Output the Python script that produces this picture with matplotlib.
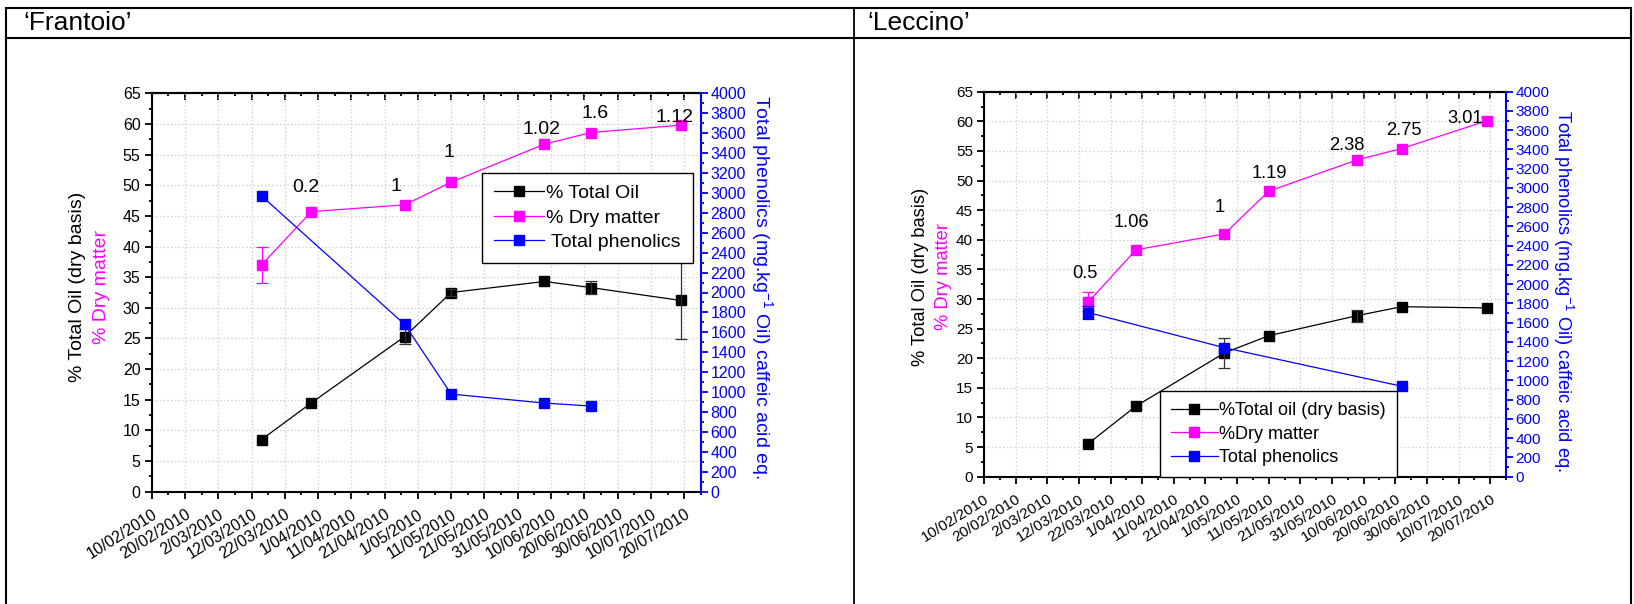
import numpy as np
import matplotlib
matplotlib.use('Agg')
import matplotlib.pyplot as plt
import matplotlib.dates as mdates
from matplotlib.ticker import FixedLocator, MultipleLocator
from matplotlib.lines import Line2D
import pandas as pd

plt.rcParams['font.family'] = ['Liberation Sans', 'DejaVu Sans']
plt.rcParams['mathtext.default'] = 'regular'

# x tick labels (every 10 days)
tick_labels = ['10/02/2010', '20/02/2010', '2/03/2010', '12/03/2010', '22/03/2010',
               '1/04/2010', '11/04/2010', '21/04/2010', '1/05/2010', '11/05/2010',
               '21/05/2010', '31/05/2010', '10/06/2010', '20/06/2010', '30/06/2010',
               '10/07/2010', '20/07/2010']
x_range = ['10/02/2010', '25/07/2010']

sample_dates = ['15/03/2010', '30/03/2010', '27/04/2010', '11/05/2010',
                '08/06/2010', '22/06/2010', '19/07/2010']

# 'Frantoio'
fr_oil = [8.5, 14.5, 25.3, 32.5, 34.3, 33.3, 31.2]
fr_oil_err = [0, 0, 1.2, 0.6, 0, 1.0, 6.3]
fr_dry = [37.0, 45.7, 46.8, 50.5, 56.7, 58.6, 59.8]
fr_dry_err = [2.9, 0, 0, 0, 0, 0, 0]
fr_phen_dates = ['15/03/2010', '27/04/2010', '11/05/2010', '08/06/2010', '22/06/2010']
fr_phen = [2970, 1680, 980, 890, 860]
fr_phen_err = [0, 0, 0, 0, 0]
fr_labels = ['', '0.2', '1', '1', '1.02', '1.6', '1.12']
fr_legend = ['% Total Oil', '% Dry matter', ' Total phenolics']

# 'Leccino'
le_oil = [5.6, 11.9, 20.9, 23.8, 27.2, 28.7, 28.5]
le_oil_err = [0, 0, 2.6, 0, 1.0, 0, 0]
le_dry = [29.5, 38.3, 41.0, 48.2, 53.5, 55.4, 60.1]
le_dry_err = [1.6, 0, 0, 0, 0, 0, 0.6]
le_phen_dates = ['15/03/2010', '27/04/2010', '22/06/2010']
le_phen = [1705, 1340, 940]
le_phen_err = [65, 0, 0]
le_labels = ['0.5', '1.06', '1', '1.19', '2.38', '2.75', '3.01']
le_legend = ['%Total oil (dry basis)', '%Dry matter', 'Total phenolics']

# label offsets in pixels (dx, dy)
fr_label_off = [(0, 0), (-6, 24), (-9, 18), (-2, 30), (-3, 15), (4, 19), (-6, 8)]
le_label_off = [(-3, 28), (-4, 27), (-5, 26), (1, 18), (-10, 14), (2, 18), (-22, 2)]

MAG = '#ff00ff'
BLUE = '#0000ff'


def to_num(strs):
    return mdates.date2num(pd.to_datetime(strs, format='%d/%m/%Y').to_pydatetime())


def series(ax, x, y, err, color, ms, ecolor=None):
    ln, = ax.plot(x, y, color=color, lw=0.9, marker='s', ms=ms, mec=color, mfc=color, zorder=3)
    err = np.array(err, dtype=float)
    m = err > 0
    if m.any():
        ax.errorbar(np.array(x)[m], np.array(y)[m], yerr=err[m], fmt='none',
                    ecolor=ecolor or color, elinewidth=0.9, capsize=4, capthick=0.9, zorder=3)
    return ln


def panel(fig, rect, oil, oil_err, dry, dry_err, phen_dates, phen, phen_err,
          labels, label_off, legend_names, leg_anchor, leg_loc, fs, tfs, lfs, ms,
          ylab_x, ylab_x2, ylab_y, rlab_x, rlab_y):
    ax = fig.add_axes(rect)
    x = to_num(sample_dates)
    l1 = series(ax, x, oil, oil_err, 'black', ms, ecolor='#333333')
    l2 = series(ax, x, dry, dry_err, MAG, ms)
    for xi, yi, t, off in zip(x, dry, labels, label_off):
        if t:
            ax.annotate(t, (xi, yi), xytext=off, textcoords='offset pixels',
                        ha='center', va='center', fontsize=fs)

    ax.set_xlim(to_num(x_range))
    ax.set_ylim(0, 65)
    ticks = to_num(tick_labels)
    minors = ticks + 5
    ax.xaxis.set_major_locator(FixedLocator(ticks))
    ax.xaxis.set_minor_locator(FixedLocator(minors))
    ax.set_xticklabels(tick_labels, rotation=32, ha='right', rotation_mode='anchor')
    ax.yaxis.set_major_locator(MultipleLocator(5))
    ax.yaxis.set_minor_locator(MultipleLocator(2.5))
    ax.tick_params(which='major', direction='out', length=5, width=1.3, labelsize=tfs, pad=3)
    ax.tick_params(which='minor', direction='out', length=2.5, width=1.3)
    ax.tick_params(axis='x', which='major', pad=6)
    ax.tick_params(axis='y', right=False, which='both')
    ax.grid(True, which='major', color='#c8c8c8', linestyle=(0, (1, 2)), linewidth=0.9)
    ax.set_axisbelow(True)
    for s in ['left', 'bottom', 'top']:
        ax.spines[s].set_linewidth(1.5)
    ax.spines['right'].set_visible(False)

    top = ax.secondary_xaxis('top')
    top.xaxis.set_major_locator(FixedLocator(ticks))
    top.xaxis.set_minor_locator(FixedLocator(minors))
    top.tick_params(which='major', direction='in', length=5, width=1.3, labeltop=False)
    top.tick_params(which='minor', direction='in', length=2.5, width=1.3)
    top.spines['top'].set_linewidth(1.5)

    ax2 = ax.twinx()
    l3 = series(ax2, to_num(phen_dates), phen, phen_err, BLUE, ms)
    ax2.set_ylim(0, 4000)
    ax2.yaxis.set_major_locator(MultipleLocator(200))
    ax2.yaxis.set_minor_locator(MultipleLocator(100))
    ax2.tick_params(axis='y', which='major', direction='out', length=5, width=1.3,
                    colors=BLUE, labelsize=tfs, pad=2)
    ax2.tick_params(axis='y', which='minor', direction='out', length=2.5, width=1.3, colors=BLUE)
    for s in ['left', 'bottom', 'top']:
        ax2.spines[s].set_visible(False)
    ax2.spines['right'].set_color(BLUE)
    ax2.spines['right'].set_linewidth(1.5)

    ax.text(ylab_x, ylab_y, '% Total Oil (dry basis)', transform=ax.transAxes,
            rotation=90, ha='center', va='center', fontsize=fs)
    ax.text(ylab_x2, ylab_y, '% Dry matter', transform=ax.transAxes, color=MAG,
            rotation=90, ha='center', va='center', fontsize=fs)
    ax.text(rlab_x, rlab_y, 'Total phenolics (mg.kg$^{-1}$ Oil) caffeic acid eq.',
            transform=ax.transAxes, color=BLUE, rotation=-90,
            ha='center', va='center', fontsize=fs)

    leg = ax2.legend([l1, l2, l3], legend_names, loc=leg_loc, bbox_to_anchor=leg_anchor,
                     bbox_transform=ax.transAxes, borderaxespad=0, fontsize=lfs,
                     fancybox=False, framealpha=1, edgecolor='black',
                     handlelength=2.6, handletextpad=0.1, labelspacing=0.35, borderpad=0.6)
    leg.get_frame().set_linewidth(1.0)
    return ax


fig = plt.figure(figsize=(16.34, 6.04), dpi=100)
W, H = 1634.0, 604.0

panel(fig, [151.7 / W, 1 - 491.7 / H, 549.1 / W, 398.4 / H],
      fr_oil, fr_oil_err, fr_dry, fr_dry_err, fr_phen_dates, fr_phen, fr_phen_err,
      fr_labels, fr_label_off, fr_legend, (0.985, 0.80), 'upper right', 14, 11.5, 14, 7,
      -0.136, -0.091, 0.515, 1.1115, 0.514)

panel(fig, [984 / W, 1 - 476.7 / H, 522 / W, 385 / H],
      le_oil, le_oil_err, le_dry, le_dry_err, le_phen_dates, le_phen, le_phen_err,
      le_labels, le_label_off, le_legend, (0.337, 0.0), 'lower left', 13.2, 11, 13, 6.5,
      -0.1226, -0.0785, 0.52, 1.109, 0.482)

# table frame
def fline(x0, y0, x1, y1, lw):
    fig.add_artist(Line2D([x0 / W, x1 / W], [1 - y0 / H, 1 - y1 / H], color='black', lw=lw))

fline(6, 8, 1631, 8, 1.5)
fline(6, 38, 1631, 38, 1.5)
fline(6, 8, 6, 604, 1.5)
fline(854, 8, 854, 604, 1.3)
fline(1631, 8, 1631, 604, 1.5)

fig.text(23 / W, 1 - 23 / H, '\u2018Frantoio\u2019', fontsize=19, ha='left', va='center')
fig.text(867 / W, 1 - 23 / H, '\u2018Leccino\u2019', fontsize=19, ha='left', va='center')

fig.savefig('out.png', dpi=100, facecolor='white')
